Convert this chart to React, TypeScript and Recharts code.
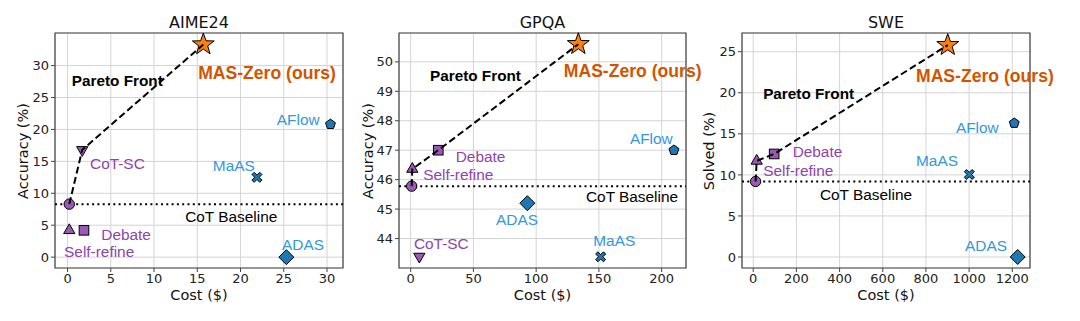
import React from "react";
import {
  ScatterChart,
  Scatter,
  XAxis,
  YAxis,
  CartesianGrid,
  ReferenceLine,
  ReferenceArea,
} from "recharts";

// methods, in the order the value arrays use
const methods = ["CoT", "CoT-SC", "Self-refine", "Debate", "ADAS", "AFlow", "MaAS", "MAS-Zero"];
const sweMethods = ["CoT", "Self-refine", "Debate", "ADAS", "AFlow", "MaAS", "MAS-Zero"];

// AIME24
const aimeCost = [0.2, 1.7, 0.2, 1.9, 25.3, 30.4, 21.9, 15.7];
const aimeAcc = [8.3, 16.8, 4.2, 4.2, 0, 20.8, 12.5, 33.3];
const aimeBaseline = 8.3;
const aimePareto = ["CoT", "CoT-SC", "MAS-Zero"];

// GPQA
const gpqaCost = [0.8, 6.9, 1.3, 22, 93, 209.8, 151.4, 133.6];
const gpqaAcc = [45.78, 43.39, 46.36, 47.0, 45.2, 47.0, 43.38, 50.6];
const gpqaBaseline = 45.78;
const gpqaPareto = ["CoT", "Self-refine", "Debate", "MAS-Zero"];

// SWE
const sweCost = [11, 16, 97, 1225, 1209, 1001, 901];
const sweSolved = [9.2, 11.7, 12.55, 0, 16.3, 10.05, 25.8];
const sweBaseline = 9.2;
const swePareto = ["CoT", "Self-refine", "Debate", "MAS-Zero"];

// annotation texts and their anchor points (data units, left edge / vertical middle)
const labelTexts = ["Pareto Front", "MAS-Zero (ours)", "CoT-SC", "AFlow", "MaAS", "CoT Baseline", "Debate", "Self-refine", "ADAS"];
const aimeLabelX = [0.5, 15.1, 2.6, 24.2, 16.8, 13.6, 3.9, -0.4, 24.8];
const aimeLabelY = [27.6, 28.9, 14.7, 21.5, 14.4, 6.3, 3.6, 0.9, 2.0];
const gpqaLabelX = [15.4, 122, 2.6, 174.7, 145.5, 139.7, 35.9, 10, 68];
const gpqaLabelY = [49.54, 49.7, 43.84, 47.41, 43.93, 45.43, 46.79, 46.19, 44.64];
const sweLabelTexts = ["Pareto Front", "MAS-Zero (ours)", "AFlow", "MaAS", "CoT Baseline", "Debate", "Self-refine", "ADAS"];
const sweLabelX = [46, 754, 939, 754, 309, 182.5, 46, 981];
const sweLabelY = [19.9, 22.0, 15.75, 11.7, 7.67, 12.83, 10.5, 1.46];

const aimeXTicks = [0, 5, 10, 15, 20, 25, 30];
const aimeYTicks = [0, 5, 10, 15, 20, 25, 30];
const gpqaXTicks = [0, 50, 100, 150, 200];
const gpqaYTicks = [44, 45, 46, 47, 48, 49, 50];
const sweXTicks = [0, 200, 400, 600, 800, 1000, 1200];
const sweYTicks = [0, 5, 10, 15, 20, 25];

const PURPLE = "#9b59b6";
const PURPLE_TEXT = "#8e44ad";
const BLUE = "#1f77b4";
const BLUE_TEXT = "#3498db";
const ORANGE = "#ff7f0e";

const markerStyle: Record<string, { shape: string; fill: string }> = {
  CoT: { shape: "circle", fill: PURPLE },
  "CoT-SC": { shape: "triDown", fill: PURPLE },
  "Self-refine": { shape: "triUp", fill: PURPLE },
  Debate: { shape: "square", fill: PURPLE },
  ADAS: { shape: "diamond", fill: BLUE },
  AFlow: { shape: "pentagon", fill: BLUE },
  MaAS: { shape: "xmark", fill: BLUE },
  "MAS-Zero": { shape: "star", fill: ORANGE },
};

const labelStyle: Record<string, { color: string; bold?: boolean; size: number }> = {
  "Pareto Front": { color: "#000", bold: true, size: 15.3 },
  "MAS-Zero (ours)": { color: "#d35400", bold: true, size: 17.6 },
  "CoT Baseline": { color: "#000", size: 15.4 },
  "CoT-SC": { color: PURPLE_TEXT, size: 15.4 },
  Debate: { color: PURPLE_TEXT, size: 15.4 },
  "Self-refine": { color: PURPLE_TEXT, size: 15.4 },
  AFlow: { color: BLUE_TEXT, size: 15.4 },
  MaAS: { color: BLUE_TEXT, size: 15.4 },
  ADAS: { color: BLUE_TEXT, size: 15.4 },
};

const poly = (cx: number, cy: number, n: number, r: number, rot: number, inner?: number) => {
  const pts: string[] = [];
  const count = inner ? n * 2 : n;
  for (let i = 0; i < count; i++) {
    const rr = inner && i % 2 === 1 ? inner : r;
    const a = rot + (i * 2 * Math.PI) / count;
    pts.push(`${cx + rr * Math.sin(a)},${cy - rr * Math.cos(a)}`);
  }
  return pts.join(" ");
};

function Marker(props: any) {
  const { cx, cy, payload } = props;
  if (cx == null || cy == null) return <g />;
  const s = markerStyle[payload.name];
  const common = { fill: s.fill, stroke: "#000", strokeWidth: 1 };
  switch (s.shape) {
    case "circle":
      return <circle cx={cx} cy={cy} r={5.2} {...common} />;
    case "triUp":
      return <polygon points={poly(cx, cy, 3, 6.5, 0)} {...common} />;
    case "triDown":
      return <polygon points={poly(cx, cy, 3, 6.5, Math.PI)} {...common} />;
    case "square":
      return <rect x={cx - 4.8} y={cy - 4.8} width={9.6} height={9.6} {...common} />;
    case "diamond":
      return <polygon points={poly(cx, cy, 4, 7.5, 0)} {...common} />;
    case "pentagon":
      return <polygon points={poly(cx, cy, 5, 5.2, 0)} {...common} />;
    case "xmark": {
      const a = 5, w = 2.2;
      const d = `M${cx - a},${cy - a + w} L${cx - a + w},${cy - a} L${cx},${cy - w} L${cx + a - w},${cy - a} L${cx + a},${cy - a + w} L${cx + w},${cy} L${cx + a},${cy + a - w} L${cx + a - w},${cy + a} L${cx},${cy + w} L${cx - a + w},${cy + a} L${cx - a},${cy + a - w} L${cx - w},${cy} Z`;
      return <path d={d} {...common} />;
    }
    case "star":
      return <polygon points={poly(cx, cy, 5, 11.5, 0, 4.6)} {...common} />;
    default:
      return <g />;
  }
}

function Annotation(props: any) {
  const { cx, cy, payload } = props;
  if (cx == null || cy == null) return <g />;
  const st = labelStyle[payload.text];
  return (
    <text
      x={cx}
      y={cy}
      dominantBaseline="central"
      fill={st.color}
      fontSize={st.size}
      fontWeight={st.bold ? "bold" : "normal"}
      fontFamily="'Liberation Sans', Arial, sans-serif"
    >
      {payload.text}
    </text>
  );
}

const NoDot = () => <g />;

type PanelProps = {
  title: string;
  yLabel: string;
  names: string[];
  xs: number[];
  ys: number[];
  baseline: number;
  pareto: string[];
  texts: string[];
  labelX: number[];
  labelY: number[];
  xDomain: [number, number];
  yDomain: [number, number];
  xTicks: number[];
  yTicks: number[];
  left: number;
  width: number;
  plotLeft: number;
  plotRight: number;
  yLabelX: number;
};

const H = 321;
const PLOT_TOP = 33;
const PLOT_BOTTOM = 268;
const tickFont = { fontSize: 13, fill: "#222", fontFamily: "'DejaVu Sans', sans-serif" };

function Panel(p: PanelProps) {
  const points = p.names.map((n, i) => ({ x: p.xs[i], y: p.ys[i], name: n }));
  const front = p.pareto.map((n) => points.find((d) => d.name === n)!);
  const notes = p.texts.map((t, i) => ({ x: p.labelX[i], y: p.labelY[i], text: t }));
  const cxPlot = (p.plotLeft + p.plotRight) / 2;
  const textBase: React.CSSProperties = {
    position: "absolute",
    whiteSpace: "nowrap",
    fontFamily: "'DejaVu Sans', sans-serif",
    color: "#111",
    lineHeight: 1,
  };
  return (
    <>
      <div style={{ position: "absolute", left: p.left, top: 0 }}>
        <ScatterChart
          width={p.width}
          height={H}
          margin={{ top: PLOT_TOP, right: p.left + p.width - p.plotRight, bottom: H - PLOT_BOTTOM - 30, left: 0 }}
        >
          <CartesianGrid stroke="#d4d4d4" strokeWidth={1} />
          <XAxis
            type="number"
            dataKey="x"
            domain={p.xDomain}
            ticks={p.xTicks}
            height={30}
            axisLine={false}
            tickLine={{ stroke: "#444" }}
            tickSize={4}
            tick={tickFont}
          />
          <YAxis
            type="number"
            dataKey="y"
            domain={p.yDomain}
            ticks={p.yTicks}
            width={p.plotLeft - p.left}
            axisLine={false}
            tickLine={{ stroke: "#444" }}
            tickSize={4}
            tick={tickFont}
          />
          <ReferenceLine y={p.baseline} stroke="#000" strokeWidth={2} strokeDasharray="2 3.3" />
          <Scatter data={points} shape={Marker} isAnimationActive={false} />
          <Scatter
            data={front}
            shape={NoDot}
            line={{ stroke: "#000", strokeWidth: 2, strokeDasharray: "7 3.5" }}
            isAnimationActive={false}
          />
          <Scatter data={notes} shape={Annotation} isAnimationActive={false} />
          <ReferenceArea
            x1={p.xDomain[0]}
            x2={p.xDomain[1]}
            y1={p.yDomain[0]}
            y2={p.yDomain[1]}
            fill="none"
            stroke="#444"
            strokeWidth={1.2}
          />
        </ScatterChart>
      </div>
      <div style={{ ...textBase, fontSize: 16, left: cxPlot, top: 23, transform: "translate(-50%,-50%)" }}>
        {p.title}
      </div>
      <div style={{ ...textBase, fontSize: 14.5, left: cxPlot, top: 295, transform: "translate(-50%,-50%)" }}>
        Cost ($)
      </div>
      <div
        style={{
          ...textBase,
          fontSize: 14.5,
          left: p.yLabelX,
          top: (PLOT_TOP + PLOT_BOTTOM) / 2,
          transform: "translate(-50%,-50%) rotate(-90deg)",
        }}
      >
        {p.yLabel}
      </div>
    </>
  );
}

export default function App() {
  return (
    <div style={{ position: "absolute", left: 0, top: 0, width: 1080, height: H, background: "#fff", overflow: "hidden" }}>
      <Panel
        title="AIME24"
        yLabel="Accuracy (%)"
        names={methods}
        xs={aimeCost}
        ys={aimeAcc}
        baseline={aimeBaseline}
        pareto={aimePareto}
        texts={labelTexts}
        labelX={aimeLabelX}
        labelY={aimeLabelY}
        xDomain={[-1.45, 31.85]}
        yDomain={[-1.7, 35.1]}
        xTicks={aimeXTicks}
        yTicks={aimeYTicks}
        left={0}
        width={360}
        plotLeft={55}
        plotRight={343}
        yLabelX={23}
      />
      <Panel
        title="GPQA"
        yLabel="Accuracy (%)"
        names={methods}
        xs={gpqaCost}
        ys={gpqaAcc}
        baseline={gpqaBaseline}
        pareto={gpqaPareto}
        texts={labelTexts}
        labelX={gpqaLabelX}
        labelY={gpqaLabelY}
        xDomain={[-9.3, 219.4]}
        yDomain={[43.0, 50.98]}
        xTicks={gpqaXTicks}
        yTicks={gpqaYTicks}
        left={360}
        width={352}
        plotLeft={399}
        plotRight={686}
        yLabelX={367.5}
      />
      <Panel
        title="SWE"
        yLabel="Solved (%)"
        names={sweMethods}
        xs={sweCost}
        ys={sweSolved}
        baseline={sweBaseline}
        pareto={swePareto}
        texts={sweLabelTexts}
        labelX={sweLabelX}
        labelY={sweLabelY}
        xDomain={[-52, 1282]}
        yDomain={[-1.34, 27.28]}
        xTicks={sweXTicks}
        yTicks={sweYTicks}
        left={712}
        width={368}
        plotLeft={742}
        plotRight={1030}
        yLabelX={709}
      />
    </div>
  );
}
